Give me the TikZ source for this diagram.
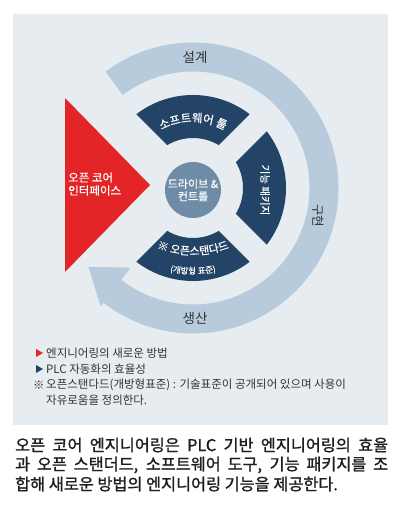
\documentclass[tikz,border=0pt]{standalone}
\usepackage{fontspec}
\setmainfont{Noto Sans CJK KR}
\newfontfamily\capfont{Noto Sans CJK KR}[FakeBold=1.2]
\newfontfamily\wfont{Noto Sans CJK KR}[FakeBold=0.5]
\usetikzlibrary{calc,decorations.text}
\definecolor{panelc}{HTML}{E7ECF1}
\definecolor{ringc}{HTML}{B7CBDD}
\definecolor{segc}{HTML}{234466}
\definecolor{diskc}{HTML}{6F8CA6}
\definecolor{redc}{HTML}{E42528}
\definecolor{labelc}{HTML}{333333}
\definecolor{capc}{HTML}{1E1E1E}
\tikzset{
  wlabel/.style={text=white, font=\wfont\fontsize{11}{13}\selectfont, align=center, inner sep=0pt},
  rlabel/.style={text=labelc, font=\fontsize{13.5}{15}\selectfont, inner sep=0pt},
  legtext/.style={text=labelc, font=\fontsize{11.5}{13}\selectfont, anchor=west, inner sep=0pt},
  captext/.style={text=capc, font=\capfont\fontsize{16.3}{18}\selectfont, anchor=west, inner sep=0pt},
  gapline/.style={panelc, line width=24pt},
}
\begin{document}
\begin{tikzpicture}[x=1pt,y=1pt]
\useasboundingbox (0,0) rectangle (402,505);
\fill[white] (0,0) rectangle (402,505);
\fill[panelc] (13,80) rectangle (388,491);
\coordinate (C) at (193,317);
% outer ring with arrow
\draw[ringc, line width=29pt] ($(C)+(127:131)$) arc[start angle=127,end angle=-129,radius=131];
\fill[ringc] ($(C)+(-128:101)$) -- ($(C)+(-128:150)$) -- ($(C)+(-143:131)$) -- cycle;
% dark segments
\foreach \a in {90,0,270}{
  \fill[segc] ($(C)+(\a-45:93)$) arc[start angle=\a-45,end angle=\a+45,radius=93]
     -- ($(C)+(\a+45:50)$) arc[start angle=\a+45,end angle=\a-45,radius=50] -- cycle;
}
\foreach \a in {45,-45,135,225}{
  \draw[gapline] (C) -- ($(C)+(\a:102)$);
}
% center disk
\fill[diskc] (193,315) circle[radius=28];
\node[wlabel, font=\wfont\fontsize{11}{12.5}\selectfont] (drive) at (193,315) {드라이브 \&\\컨트롤};
% red triangle
\fill[redc] (65,407) -- (65,233) -- (150,320) -- cycle;
\node[wlabel, font=\wfont\fontsize{11.5}{13}\selectfont, align=left, anchor=west] (oci) at (68,321) {오픈 코어\\인터페이스};
% segment labels
\path[decorate, decoration={text along path, text align=center,
  text={|\wfont\fontsize{11.5}{13}\selectfont\color{white}|소프트웨어 툴}}]
  ($(C)+(150:66)$) arc[start angle=150,end angle=30,radius=66];
\coordinate (B1) at (193,350);
\coordinate (B2) at (193,351);
\path[decorate, decoration={text along path, text align=center,
  text={|\wfont\fontsize{11}{13}\selectfont\color{white}|※ 오픈스탠다드}}]
  ($(B1)+(238:100)$) arc[start angle=238,end angle=302,radius=100];
\path[decorate, decoration={text along path, text align=center,
  text={|\wfont\fontsize{8.5}{10}\selectfont\color{white}|(개방형 표준)}}]
  ($(B2)+(245:120)$) arc[start angle=245,end angle=295,radius=120];
\node[wlabel, rotate=-90, font=\wfont\fontsize{10.5}{12}\selectfont] (pkg) at (265,315) {기능 패키지};
% ring labels
\node[rlabel] (design) at (195,448) {설계};
\node[rlabel] (prod) at (195,187) {생산};
\node[rlabel, rotate=-90, font=\fontsize{12.5}{14}\selectfont] (impl) at (318,289) {구현};
% legend
\fill[redc] (36,156) -- (36,148) -- (43,152) -- cycle;
\fill[segc] (36,140) -- (36,132) -- (43,136) -- cycle;
\node[legtext] (l1) at (46,152) {엔지니어링의 새로운 방법};
\node[legtext] (l2) at (46,136) {PLC 자동화의 효율성};
\node[legtext] (l0) at (33,120) {※};
\node[legtext] (l3) at (46,120) {오픈스탠다드(개방형표준) : 기술표준이 공개되어 있으며 사용이};
\node[legtext] (l4) at (46,105) {자유로움을 정의한다.};
% caption
\node[captext] (c1) at (15,60) {\makebox[373pt][s]{오픈 코어 엔지니어링은 PLC 기반 엔지니어링의 효율}};
\node[captext] (c2) at (15,40) {\makebox[373pt][s]{과 오픈 스탠더드, 소프트웨어 도구, 기능 패키지를 조}};
\node[captext] (c3) at (15,21) {합해 새로운 방법의 엔지니어링 기능을 제공한다.};
\end{tikzpicture}
\end{document}
